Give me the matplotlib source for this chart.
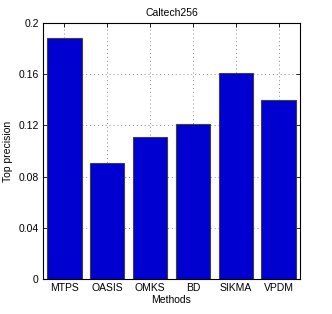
import numpy as np
import matplotlib
matplotlib.use("Agg")
import matplotlib.pyplot as plt

methods = ["MTPS", "OASIS", "OMKS", "BD", "SIKMA", "VPDM"]
precision = [0.188, 0.091, 0.111, 0.121, 0.161, 0.140]
yticks = [0, 0.04, 0.08, 0.12, 0.16, 0.2]
ytick_labels = ["0", "0.04", "0.08", "0.12", "0.16", "0.2"]

plt.rcParams["font.family"] = ["Liberation Sans", "DejaVu Sans"]
plt.rcParams["font.size"] = 7.5

fig = plt.figure(figsize=(3.32, 3.14), dpi=100)
ax = fig.add_axes([43 / 332, 1 - 279 / 314, 257 / 332, 256 / 314])

x = np.arange(1, len(methods) + 1)
ax.bar(x, precision, width=0.8, color="#0000d0", edgecolor="#404040",
       linewidth=0.8, zorder=3)

ax.set_xlim(0.5, 6.5)
ax.set_ylim(0, 0.2)
ax.set_xticks(x)
ax.set_xticklabels(methods)
ax.set_yticks(yticks)
ax.set_yticklabels(ytick_labels)
ax.grid(True, linestyle=(0, (1, 3)), color="#8a8a8a", linewidth=0.7, zorder=0)
ax.tick_params(direction="in", top=True, right=True, length=3, width=0.6,
               pad=3, labelsize=7.5)
for s in ax.spines.values():
    s.set_linewidth(0.8)
    s.set_zorder(4)

ax.set_title("Caltech256", fontsize=7.5, pad=5)
ax.set_xlabel("Methods", labelpad=1.5)
ax.set_ylabel("Top precision", labelpad=4)

plt.savefig("out.png", dpi=100)
